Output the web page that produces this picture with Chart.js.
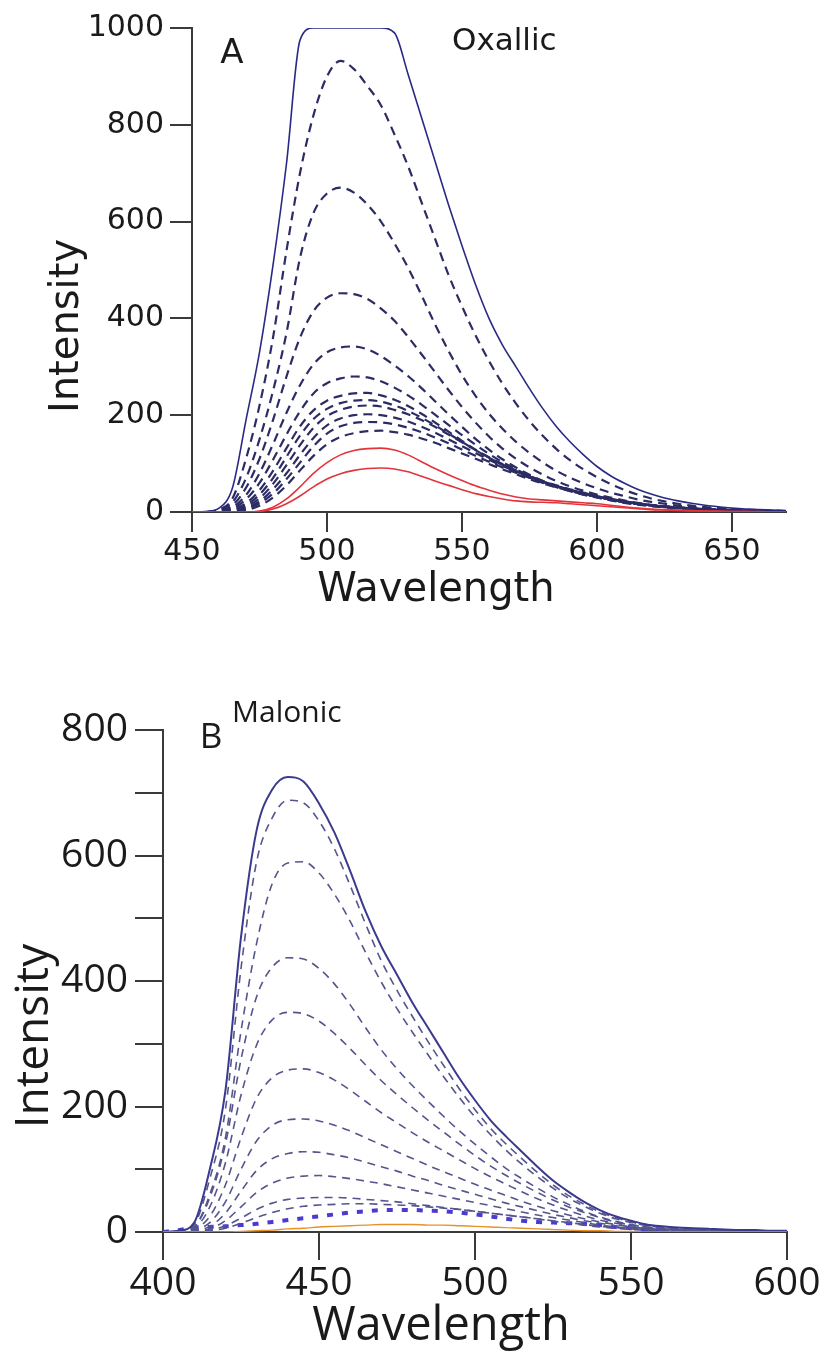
<!DOCTYPE html>
<html>
<head>
<meta charset="utf-8">
<script src="https://cdn.jsdelivr.net/npm/chart.js@4.4.1/dist/chart.umd.min.js"></script>
<style>
  html, body { margin: 0; padding: 0; background: #fff; }
  #wrap { position: relative; width: 825px; height: 1351px; }
  canvas { position: absolute; left: 0; }
  #chartA { top: 0; }
  #chartB { top: 640px; }
</style>
</head>
<body>
<div id="wrap">
  <canvas id="chartA" width="825" height="640"></canvas>
  <canvas id="chartB" width="825" height="711"></canvas>
</div>
<script>
// ---- panel A (Oxallic) ----
const wlA = [450, 455, 460, 465, 470, 475, 480, 485, 490, 495, 500, 505, 510, 515, 520, 525, 530, 535, 540, 545,
	550, 555, 560, 565, 570, 575, 580, 585, 590, 595, 600, 605, 610, 615, 620, 625, 630, 635, 640, 645,
	650, 655, 660, 665, 670];
const xTicksA = [450, 500, 550, 600, 650];
const yTicksA = [0, 200, 400, 600, 800, 1000];

const oxSat = [0, 1, 8, 50, 190, 330, 510, 720, 975, 1000, 1000, 1000, 1000, 1000, 1000, 990, 905, 815, 725, 635,
	550, 470, 400, 345, 300, 255, 213, 176, 145, 118, 94, 75, 60, 47, 37, 29, 23, 18, 14, 11, 8, 6, 5, 4, 3];
const ox1 = [0, 0, 5, 28, 110, 220, 360, 540, 700, 820, 900, 932, 915, 880, 840, 780, 715, 640, 565, 490,
	425, 365, 312, 265, 224, 188, 157, 130, 107, 88, 72, 58, 46, 36, 28, 22, 17, 13, 10, 8, 6, 5, 4, 3, 2];
const ox2 = [0, 0, 4, 20, 70, 150, 250, 370, 525, 618, 658, 670, 660, 635, 600, 555, 505, 448, 388, 333,
	283, 240, 203, 172, 145, 122, 102, 85, 71, 59, 49, 40, 33, 26, 21, 17, 13, 10, 8, 6, 5, 4, 3, 2, 2];
const ox3 = [0, 0, 3, 14, 50, 110, 190, 280, 360, 415, 443, 452, 450, 440, 420, 395, 362, 326, 289, 252,
	217, 185, 156, 131, 110, 92, 77, 64, 53, 44, 36, 30, 24, 19, 15, 12, 10, 8, 6, 5, 4, 3, 2, 2, 1];
const ox4 = [0, 0, 2, 10, 35, 80, 140, 205, 262, 305, 330, 340, 342, 336, 322, 303, 281, 256, 229, 202,
	176, 151, 129, 109, 92, 77, 64, 53, 44, 36, 30, 24, 19, 15, 12, 10, 8, 6, 5, 4, 3, 2, 2, 1, 1];
const ox5 = [0, 0, 1, 7, 26, 60, 108, 160, 208, 245, 266, 276, 280, 278, 270, 257, 241, 222, 201, 180,
	159, 139, 120, 103, 88, 75, 63, 53, 44, 37, 31, 25, 20, 16, 13, 10, 8, 6, 5, 4, 3, 2, 2, 1, 1];
const ox6 = [0, 0, 1, 5, 18, 45, 85, 132, 177, 210, 230, 240, 245, 246, 241, 232, 219, 203, 185, 166,
	147, 129, 112, 97, 83, 71, 60, 51, 43, 36, 30, 25, 20, 16, 13, 10, 8, 6, 5, 4, 3, 2, 2, 1, 1];
const ox7 = [0, 0, 1, 4, 14, 36, 70, 114, 158, 192, 213, 225, 230, 231, 228, 220, 209, 195, 179, 162,
	145, 128, 112, 98, 85, 73, 62, 53, 45, 38, 32, 26, 21, 17, 14, 11, 9, 7, 5, 4, 3, 2, 2, 1, 1];
const ox8 = [0, 0, 0, 3, 11, 28, 58, 97, 138, 174, 198, 211, 218, 220, 218, 211, 202, 190, 176, 160,
	144, 128, 113, 99, 86, 75, 64, 55, 47, 40, 33, 27, 22, 18, 14, 11, 9, 7, 5, 4, 3, 2, 2, 1, 1];
const ox9 = [0, 0, 0, 2, 8, 22, 47, 80, 118, 153, 179, 193, 200, 202, 200, 195, 187, 176, 164, 150,
	136, 122, 108, 95, 84, 73, 63, 54, 46, 39, 33, 27, 22, 18, 14, 11, 9, 7, 5, 4, 3, 2, 2, 1, 1];
const ox10 = [0, 0, 0, 1, 6, 18, 38, 68, 102, 136, 162, 177, 184, 186, 185, 181, 174, 165, 154, 142,
	129, 116, 104, 92, 81, 71, 62, 53, 45, 38, 32, 27, 22, 18, 14, 11, 9, 7, 5, 4, 3, 2, 2, 1, 1];
const ox11 = [0, 0, 0, 1, 4, 13, 30, 55, 86, 116, 140, 155, 163, 167, 168, 165, 160, 152, 143, 132,
	121, 110, 99, 88, 78, 68, 59, 51, 44, 37, 31, 26, 21, 17, 14, 11, 9, 7, 5, 4, 3, 2, 2, 1, 1];
const oxRed1 = [0, 0, 0, 0, 0, 2, 10, 27, 52, 80, 102, 118, 127, 131, 132, 128, 118, 104, 90, 77,
	65, 54, 45, 37, 31, 27, 25, 23, 21, 19, 17, 14, 11, 8, 6, 5, 4, 3, 2, 2, 1, 1, 1, 0, 0];
const oxRed2 = [0, 0, 0, 0, 0, 1, 6, 17, 33, 52, 68, 79, 86, 90, 91, 89, 83, 74, 64, 55,
	46, 38, 32, 27, 23, 21, 20, 19, 17, 15, 13, 11, 9, 7, 5, 4, 3, 2, 2, 1, 1, 1, 0, 0, 0];

// ---- panel B (Malonic) ----
const wlB = [400, 405, 410, 415, 420, 425, 430, 435, 440, 445, 450, 455, 460, 465, 470, 475, 480, 485, 490, 495,
	500, 505, 510, 515, 520, 525, 530, 535, 540, 545, 550, 555, 560, 565, 570, 575, 580, 585, 590, 595, 600];
const xTicksB = [400, 450, 500, 550, 600];
const yTicksB = [0, 100, 200, 300, 400, 500, 600, 700, 800];
const yLabelsB = [0, 200, 400, 600, 800];

const mal1 = [0, 2, 15, 100, 225, 470, 640, 705, 725, 718, 683, 636, 575, 510, 455, 410, 365, 325, 285, 245,
	210, 178, 152, 128, 104, 82, 64, 48, 35, 25, 18, 12, 9, 7, 6, 5, 4, 3, 3, 2, 2];
const mal2 = [0, 1, 12, 85, 195, 420, 590, 660, 688, 684, 655, 610, 552, 490, 432, 385, 343, 303, 265, 228,
	195, 165, 140, 117, 95, 75, 58, 44, 32, 23, 16, 11, 8, 6, 5, 4, 3, 3, 2, 2, 2];
const mal3 = [0, 1, 8, 60, 150, 320, 460, 555, 588, 590, 572, 538, 495, 445, 398, 356, 318, 282, 247, 214,
	183, 155, 130, 108, 88, 70, 54, 41, 30, 21, 15, 10, 7, 5, 4, 3, 3, 2, 2, 1, 1];
const mal4 = [0, 1, 8, 55, 140, 275, 375, 422, 437, 435, 420, 395, 362, 325, 290, 260, 233, 208, 184, 161,
	140, 120, 101, 85, 70, 56, 44, 33, 24, 17, 12, 8, 6, 5, 4, 3, 3, 2, 2, 1, 1];
const mal5 = [0, 1, 6, 40, 110, 218, 298, 338, 350, 348, 336, 316, 292, 266, 241, 219, 198, 178, 159, 140,
	122, 105, 90, 76, 63, 51, 40, 31, 23, 16, 11, 8, 6, 4, 3, 3, 2, 2, 1, 1, 1];
const mal6 = [0, 0, 4, 25, 75, 150, 213, 246, 258, 260, 254, 242, 226, 208, 190, 174, 158, 143, 129, 115,
	101, 88, 76, 64, 53, 43, 34, 26, 19, 14, 10, 7, 5, 4, 3, 2, 2, 1, 1, 1, 1];
const mal7 = [0, 0, 3, 15, 48, 100, 145, 170, 179, 180, 177, 170, 161, 150, 139, 128, 117, 106, 96, 86,
	76, 67, 58, 49, 41, 34, 27, 21, 16, 12, 8, 6, 4, 3, 3, 2, 2, 1, 1, 1, 1];
const mal8 = [0, 0, 2, 9, 30, 65, 98, 117, 125, 128, 127, 123, 118, 111, 104, 97, 89, 82, 74, 67,
	60, 53, 46, 40, 34, 28, 23, 18, 14, 10, 7, 5, 4, 3, 2, 2, 1, 1, 1, 1, 0];
const mal9 = [0, 0, 1, 5, 18, 40, 63, 78, 86, 89, 90, 88, 85, 81, 77, 72, 67, 62, 57, 52,
	47, 42, 37, 32, 27, 23, 19, 15, 11, 8, 6, 4, 3, 2, 2, 1, 1, 1, 0, 0, 0];
const mal10 = [0, 0, 1, 3, 10, 22, 36, 46, 52, 54, 55, 55, 54, 52, 50, 48, 45, 42, 39, 36,
	33, 30, 27, 24, 21, 18, 15, 12, 9, 7, 5, 3, 2, 2, 1, 1, 1, 0, 0, 0, 0];
const mal11 = [0, 0, 0, 2, 6, 14, 23, 31, 37, 41, 43, 44, 45, 45, 44, 43, 42, 40, 38, 36,
	33, 30, 27, 24, 21, 17, 14, 11, 8, 6, 4, 3, 2, 1, 1, 1, 0, 0, 0, 0, 0];
const mal12 = [0, 3, 7, 8, 9, 11, 13, 16, 19, 22, 25, 28, 31, 33, 35, 35, 35, 34, 33, 31,
	28, 25, 21, 18, 16, 15, 14, 13, 11, 8, 6, 4, 3, 2, 2, 1, 1, 1, 0, 0, 0];
const malOrange = [0, 0, 0, 0, 0, 1, 2, 3, 5, 6, 8, 9, 10, 11, 12, 12, 12, 11, 11, 10,
	9, 8, 7, 6, 5, 4, 3, 2, 2, 1, 1, 0, 0, 0, 0, 0, 0, 0, 0, 0, 0];

const axisColor = "#3a3a3a";

function line(wl, values, color, width, dash) {
	return {
		data: wl.map((x, i) => ({ x: x, y: values[i] })),
		borderColor: color,
		borderWidth: width,
		borderDash: dash || [],
		pointRadius: 0,
		fill: false,
		cubicInterpolationMode: "monotone",
	};
}

// free text on each panel (panel letter, acid name, axis titles)
function textPlugin(id, items) {
	return {
		id: id,
		afterDraw(chart) {
			const c = chart.ctx;
			items.forEach((t) => {
				c.save();
				c.fillStyle = "#1a1a1a";
				c.font = t.font;
				c.textAlign = t.align;
				c.textBaseline = "alphabetic";
				c.translate(t.x, t.y);
				if (t.rotate) c.rotate(-Math.PI / 2);
				c.fillText(t.text, 0, 0);
				c.restore();
			});
		},
	};
}

function axisOpts(min, max, ticks, labelled, font, tickLen, pad, fit) {
	return {
		type: "linear",
		min: min,
		max: max,
		afterFit: fit,
		afterBuildTicks: (scale) => {
			scale.ticks = ticks.map((v) => ({ value: v }));
		},
		ticks: {
			color: "#1a1a1a",
			font: font,
			padding: pad,
			maxRotation: 0,
			autoSkip: false,
			callback: (v) => (labelled.includes(v) ? String(v) : ""),
		},
		grid: {
			drawOnChartArea: false,
			drawTicks: true,
			tickLength: tickLen,
			color: axisColor,
			lineWidth: 2,
		},
		border: { color: axisColor, width: 2 },
	};
}

const fontA = { family: "DejaVu Sans", size: 30 };
const dashA = [9, 6];
const navyA = "#2c2c64";

new Chart(document.getElementById("chartA"), {
	type: "line",
	data: {
		datasets: [
			line(wlA, oxRed1, "#e3343c", 1.6),
			line(wlA, oxRed2, "#e3343c", 1.6),
			line(wlA, oxSat, "#2a2a86", 1.6),
			line(wlA, ox1, navyA, 2.2, dashA),
			line(wlA, ox2, navyA, 2.2, dashA),
			line(wlA, ox3, navyA, 2.2, dashA),
			line(wlA, ox4, navyA, 2.2, dashA),
			line(wlA, ox5, navyA, 2.2, dashA),
			line(wlA, ox6, navyA, 2.2, dashA),
			line(wlA, ox7, navyA, 2.2, dashA),
			line(wlA, ox8, navyA, 2.2, dashA),
			line(wlA, ox9, navyA, 2.2, dashA),
			line(wlA, ox10, navyA, 2.2, dashA),
			line(wlA, ox11, navyA, 2.2, dashA),
		],
	},
	options: {
		responsive: false,
		animation: false,
		layout: { padding: { left: 0, right: 39, top: 28, bottom: 0 } },
		plugins: { legend: { display: false }, tooltip: { enabled: false } },
		scales: {
			x: axisOpts(450, 670, xTicksA, xTicksA, fontA, 20, 2, (s) => { s.height = 128; }),
			y: axisOpts(0, 1000, yTicksA, yTicksA, fontA, 22, 6, (s) => { s.width = 192; }),
		},
	},
	plugins: [
		textPlugin("textA", [
			{ text: "A", x: 232, y: 63, font: "34px 'DejaVu Sans'", align: "center" },
			{ text: "Oxallic", x: 452, y: 50, font: "31px 'DejaVu Sans'", align: "left" },
			{ text: "Intensity", x: 78, y: 326, font: "40px 'DejaVu Sans'", align: "center", rotate: true },
			{ text: "Wavelength", x: 436, y: 601, font: "40px 'DejaVu Sans'", align: "center" },
		]),
	],
});

const fontB = { family: "Open Sans", size: 39 };
const dashB = [8, 6];
const navyB = "#55558e";

new Chart(document.getElementById("chartB"), {
	type: "line",
	data: {
		datasets: [
			line(wlB, malOrange, "#e8902a", 1.4),
			line(wlB, mal1, "#3a3a8e", 2),
			line(wlB, mal2, navyB, 1.6, dashB),
			line(wlB, mal3, navyB, 1.6, dashB),
			line(wlB, mal4, navyB, 1.6, dashB),
			line(wlB, mal5, navyB, 1.6, dashB),
			line(wlB, mal6, navyB, 1.6, dashB),
			line(wlB, mal7, navyB, 1.6, dashB),
			line(wlB, mal8, navyB, 1.6, dashB),
			line(wlB, mal9, navyB, 1.6, dashB),
			line(wlB, mal10, navyB, 1.6, dashB),
			line(wlB, mal11, navyB, 1.6, dashB),
			line(wlB, mal12, "#4a3bd0", 4, [6, 9]),
		],
	},
	options: {
		responsive: false,
		animation: false,
		layout: { padding: { left: 0, right: 38, top: 90, bottom: 0 } },
		plugins: { legend: { display: false }, tooltip: { enabled: false } },
		scales: {
			x: axisOpts(400, 600, xTicksB, xTicksB, fontB, 28, 0, (s) => { s.height = 119; }),
			y: axisOpts(0, 800, yTicksB, yLabelsB, fontB, 28, 7, (s) => { s.width = 163; }),
		},
	},
	plugins: [
		textPlugin("textB", [
			{ text: "B", x: 211, y: 108, font: "35px 'Open Sans'", align: "center" },
			{ text: "Malonic", x: 232, y: 82, font: "30px 'Open Sans'", align: "left" },
			{ text: "Intensity", x: 48, y: 396, font: "46px 'Open Sans'", align: "center", rotate: true },
			{ text: "Wavelength", x: 441, y: 700, font: "47px 'Open Sans'", align: "center" },
		]),
	],
});
</script>
</body>
</html>
